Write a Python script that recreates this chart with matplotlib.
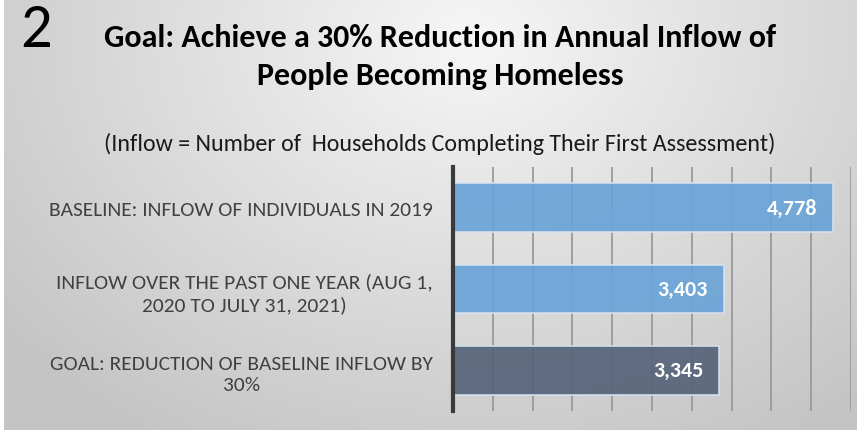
import matplotlib
matplotlib.use('agg')
import matplotlib.pyplot as plt
import numpy as np

# data
categories = ["BASELINE: INFLOW OF INDIVIDUALS IN 2019",
              "INFLOW OVER THE PAST ONE YEAR (AUG 1,\n2020 TO JULY 31, 2021)",
              "GOAL: REDUCTION OF BASELINE INFLOW BY\n30%"]
values = [4778, 3403, 3345]
bar_colors = ["#6aa3d7", "#6aa3d7", "#56647a"]
xticks_vals = list(range(0, 5001, 500))

W, H = 857, 435
fig = plt.figure(figsize=(W / 100, H / 100), dpi=100)

# background gradient (light top centre, grey edges)
bg = fig.add_axes([0, 0, 1, 1], zorder=-10)
yy, xx = np.mgrid[0:H, 0:W]
d = np.sqrt(((xx - 470) / 620.0) ** 2 + ((yy - 40) / 480.0) ** 2)
g = np.clip(0.965 - 0.2 * d, 0.77, 1)
img = np.dstack([g, g, g])
img[:, :4] = 1.0
img[431:, :] = 1.0
bg.imshow(img, aspect='auto', extent=[0, W, H, 0])
bg.set_xlim(0, W)
bg.set_ylim(H, 0)
bg.axis('off')

fam = ['Carlito', 'DejaVu Sans']
fig.text(20 / W, 1 - 47 / H, "2", fontsize=45, family=fam, color='black', va='baseline')
fig.text(440 / W, 1 - 47 / H, "Goal: Achieve a 30% Reduction in Annual Inflow of",
         fontsize=23, fontweight='bold', family=fam, ha='center', va='baseline')
fig.text(440 / W, 1 - 85 / H, "People Becoming Homeless",
         fontsize=23, fontweight='bold', family=fam, ha='center', va='baseline')
fig.text(440 / W, 1 - 151 / H, "(Inflow = Number of  Households Completing Their First Assessment)",
         fontsize=17.3, family=fam, ha='center', va='baseline', color='#1a1a1a')

ax = fig.add_axes([453 / W, 1 - 412 / H, (851 - 453) / W, (412 - 168) / H])
ax.patch.set_alpha(0)
y = np.arange(len(values))
bars = ax.barh(y, values, height=0.6, color=bar_colors, alpha=0.92,
               edgecolor='#d8e4f0', linewidth=1.2, zorder=3)
ax.set_ylim(2.5, -0.5)
ax.set_xlim(0, 5000)
ax.set_xticks(xticks_vals)
ax.xaxis.grid(True, color='#9a9a9a', lw=1.3, zorder=1)
ax.tick_params(axis='x', length=0, labelbottom=False)
ax.tick_params(axis='y', length=0, pad=14.4)
ax.set_yticks(y)
ax.set_yticklabels(categories, fontsize=15.4, family=fam, color='#404040',
                   multialignment='center', linespacing=1.3)
for s in ['top', 'right', 'bottom']:
    ax.spines[s].set_visible(False)
ax.spines['left'].set_color('#3a3a3a')
ax.spines['left'].set_linewidth(3)
ax.spines['left'].set_zorder(5)

for b, v in zip(bars, values):
    ax.text(v - 200, b.get_y() + b.get_height() / 2, "{:,}".format(v),
            ha='right', va='center', color='white', fontweight='bold',
            fontsize=15.8, family=fam, zorder=6)

fig.savefig("out.png", dpi=100)
